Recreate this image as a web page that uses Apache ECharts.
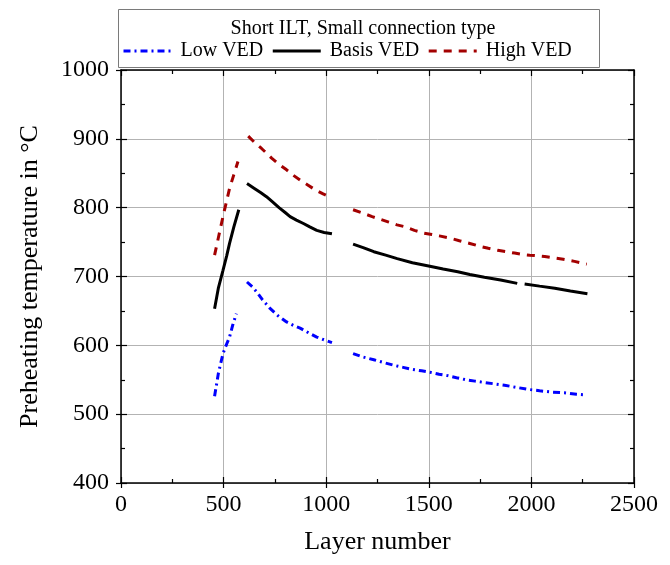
<!DOCTYPE html>
<html><head><meta charset="utf-8">
<script src="https://cdn.jsdelivr.net/npm/echarts@6/dist/echarts.min.js"></script>
<style>html,body{margin:0;padding:0;background:#fff}#c{width:670px;height:565px}</style>
</head><body><div id="c"></div>
<script>
const xTicks = [0, 500, 1000, 1500, 2000, 2500];
const yTicks = [400, 500, 600, 700, 800, 900, 1000];
const seriesNames = ['Low VED', 'Basis VED', 'High VED'];
const legendTitle = 'Short ILT, Small connection type';
const xTitle = 'Layer number';
const yTitle = 'Preheating temperature in °C';

const lowLayers = [456, 475, 497, 515, 529, 545, 562, null, 614, 640, 660, 690, 725, 765, 807, 840, 873, 915, 954, 990, 1028, null, 1131, 1180, 1232, 1280, 1330, 1375, 1420, 1465, 1505, 1550, 1592, 1635, 1681, 1725, 1771, 1820, 1869, 1925, 1984, 2040, 2100, 2160, 2220, 2270];
const lowTemp   = [526, 560, 588, 602, 612, 630, 646, null, 692, 685, 678, 666, 654, 643, 634, 629, 625, 618, 612, 608, 604, null, 588, 583, 579, 575, 571, 568, 565, 563, 561, 558, 556, 553, 550, 548, 546, 544, 542, 539, 536, 534, 532, 531, 529, 528];

const basisLayers = [456, 475, 497, 515, 529, 550, 574, null, 614, 650, 680, 709, 740, 770, 800, 824, 855, 889, 920, 954, 990, 1028, null, 1131, 1180, 1232, 1290, 1346, 1420, 1505, 1570, 1641, 1700, 1771, 1850, 1931, null, 1967, 2040, 2114, 2190, 2273];
const basisTemp   = [653, 684, 709, 730, 748, 772, 797, null, 835, 828, 822, 816, 808, 800, 793, 787, 782, 777, 772, 767, 764, 762, null, 747, 742, 736, 731, 726, 720, 715, 711, 707, 703, 699, 695, 690, null, 689, 686, 683, 679, 675];

const highLayers = [456, 475, 497, 515, 529, 550, 570, null, 620, 650, 685, 710, 734, 770, 807, 840, 873, 910, 946, 985, 1020, null, 1131, 1180, 1224, 1265, 1305, 1345, 1387, 1430, 1477, 1515, 1551, 1600, 1649, 1700, 1747, 1790, 1836, 1880, 1918, 1955, 1992, 2030, 2065, 2110, 2155, 2210, 2270];
const highTemp   = [731, 757, 787, 810, 828, 848, 867, null, 904, 895, 886, 879, 872, 863, 855, 847, 840, 833, 826, 820, 815, null, 797, 792, 787, 783, 779, 775, 772, 767, 763, 761, 759, 756, 752, 748, 744, 741, 738, 736, 734, 732, 731, 730, 729, 727, 725, 722, 718];

function pairs(xs, ys) {
  return xs.map((x, i) => (x === null || ys[i] === null) ? ['-', '-'] : [x, ys[i]]);
}

const FONT = "'Liberation Serif','Times New Roman',serif";
const xMin = xTicks[0], xMax = xTicks[xTicks.length - 1], xInt = xTicks[1] - xTicks[0];
const yMin = yTicks[0], yMax = yTicks[yTicks.length - 1], yInt = yTicks[1] - yTicks[0];
const plain = v => String(v);

function xAxisBase(extra) {
  return Object.assign({
    type: 'value', min: xMin, max: xMax, interval: xInt,
    axisLine: { show: true, onZero: false, lineStyle: { color: '#000', width: 1.5 } },
    axisTick: { show: true, inside: true, length: 6, lineStyle: { color: '#000', width: 1.2 } },
    minorTick: { show: true, splitNumber: 2, length: 4, lineStyle: { color: '#000', width: 1.2 } },
    axisLabel: { show: false }, splitLine: { show: false }
  }, extra);
}
function yAxisBase(extra) {
  return Object.assign({
    type: 'value', min: yMin, max: yMax, interval: yInt,
    axisLine: { show: true, onZero: false, lineStyle: { color: '#000', width: 1.5 } },
    axisTick: { show: true, inside: true, length: 6, lineStyle: { color: '#000', width: 1.2 } },
    minorTick: { show: true, splitNumber: 2, length: 4, lineStyle: { color: '#000', width: 1.2 } },
    axisLabel: { show: false }, splitLine: { show: false }
  }, extra);
}

const chart = echarts.init(document.getElementById('c'), null, { renderer: 'canvas' });
chart.setOption({
  backgroundColor: '#fff',
  animation: false,
  textStyle: { fontFamily: FONT },
  grid: { left: 121, right: 36, top: 70, bottom: 82, containLabel: false },
  title: {
    text: legendTitle, left: 358, top: 14, textAlign: 'center',
    textStyle: { fontFamily: FONT, fontSize: 20, fontWeight: 'normal', color: '#000' }
  },
  graphic: [{
    type: 'rect', left: 118, top: 9, z: 0,
    shape: { width: 481, height: 58 },
    style: { fill: '#fff', stroke: '#7a7a7a', lineWidth: 1 }
  }],
  legend: {
    data: seriesNames, left: 117, top: 36, itemWidth: 48, itemHeight: 14, itemGap: 8,
    itemStyle: { opacity: 0 },
    lineStyle: { width: 3 },
    textStyle: { fontFamily: FONT, fontSize: 20, color: '#000', padding: [0, 0, 0, 4] },
    z: 5
  },
  xAxis: [
    xAxisBase({
      position: 'bottom',
      name: xTitle, nameLocation: 'middle', nameGap: 46,
      nameTextStyle: { fontFamily: FONT, fontSize: 26, color: '#000' },
      axisLabel: { show: true, fontFamily: FONT, fontSize: 24, color: '#000', margin: 10, formatter: plain },
      splitLine: { show: true, lineStyle: { color: '#b3b3b3', width: 1 } }
    }),
    xAxisBase({ position: 'bottom', axisLine: { show: false }, axisTick: { show: true, inside: false, length: 5, lineStyle: { color: '#000', width: 1.2 } }, minorTick: { show: false } }),
    xAxisBase({ position: 'top' })
  ],
  yAxis: [
    yAxisBase({
      position: 'left',
      name: yTitle, nameLocation: 'middle', nameGap: 78,
      nameTextStyle: { fontFamily: FONT, fontSize: 26, color: '#000' },
      axisLabel: { show: true, fontFamily: FONT, fontSize: 24, color: '#000', margin: 12, formatter: plain },
      splitLine: { show: true, lineStyle: { color: '#b3b3b3', width: 1 } }
    }),
    yAxisBase({ position: 'left', axisLine: { show: false }, axisTick: { show: true, inside: false, length: 5, lineStyle: { color: '#000', width: 1.2 } }, minorTick: { show: false } }),
    yAxisBase({ position: 'right' })
  ],
  series: [
    {
      name: seriesNames[0], type: 'line', xAxisIndex: 0, yAxisIndex: 0,
      data: pairs(lowLayers, lowTemp), symbol: 'none', connectNulls: false,
      color: '#0000ff',
      lineStyle: { color: '#0000ff', width: 3, type: [7, 4, 2, 4] }
    },
    {
      name: seriesNames[1], type: 'line', xAxisIndex: 0, yAxisIndex: 0,
      data: pairs(basisLayers, basisTemp), symbol: 'none', connectNulls: false,
      color: '#000000',
      lineStyle: { color: '#000000', width: 3, type: 'solid' }
    },
    {
      name: seriesNames[2], type: 'line', xAxisIndex: 0, yAxisIndex: 0,
      data: pairs(highLayers, highTemp), symbol: 'none', connectNulls: false,
      color: '#a30000',
      lineStyle: { color: '#a30000', width: 3, type: [8, 7] }
    }
  ]
});
</script>
</body></html>
